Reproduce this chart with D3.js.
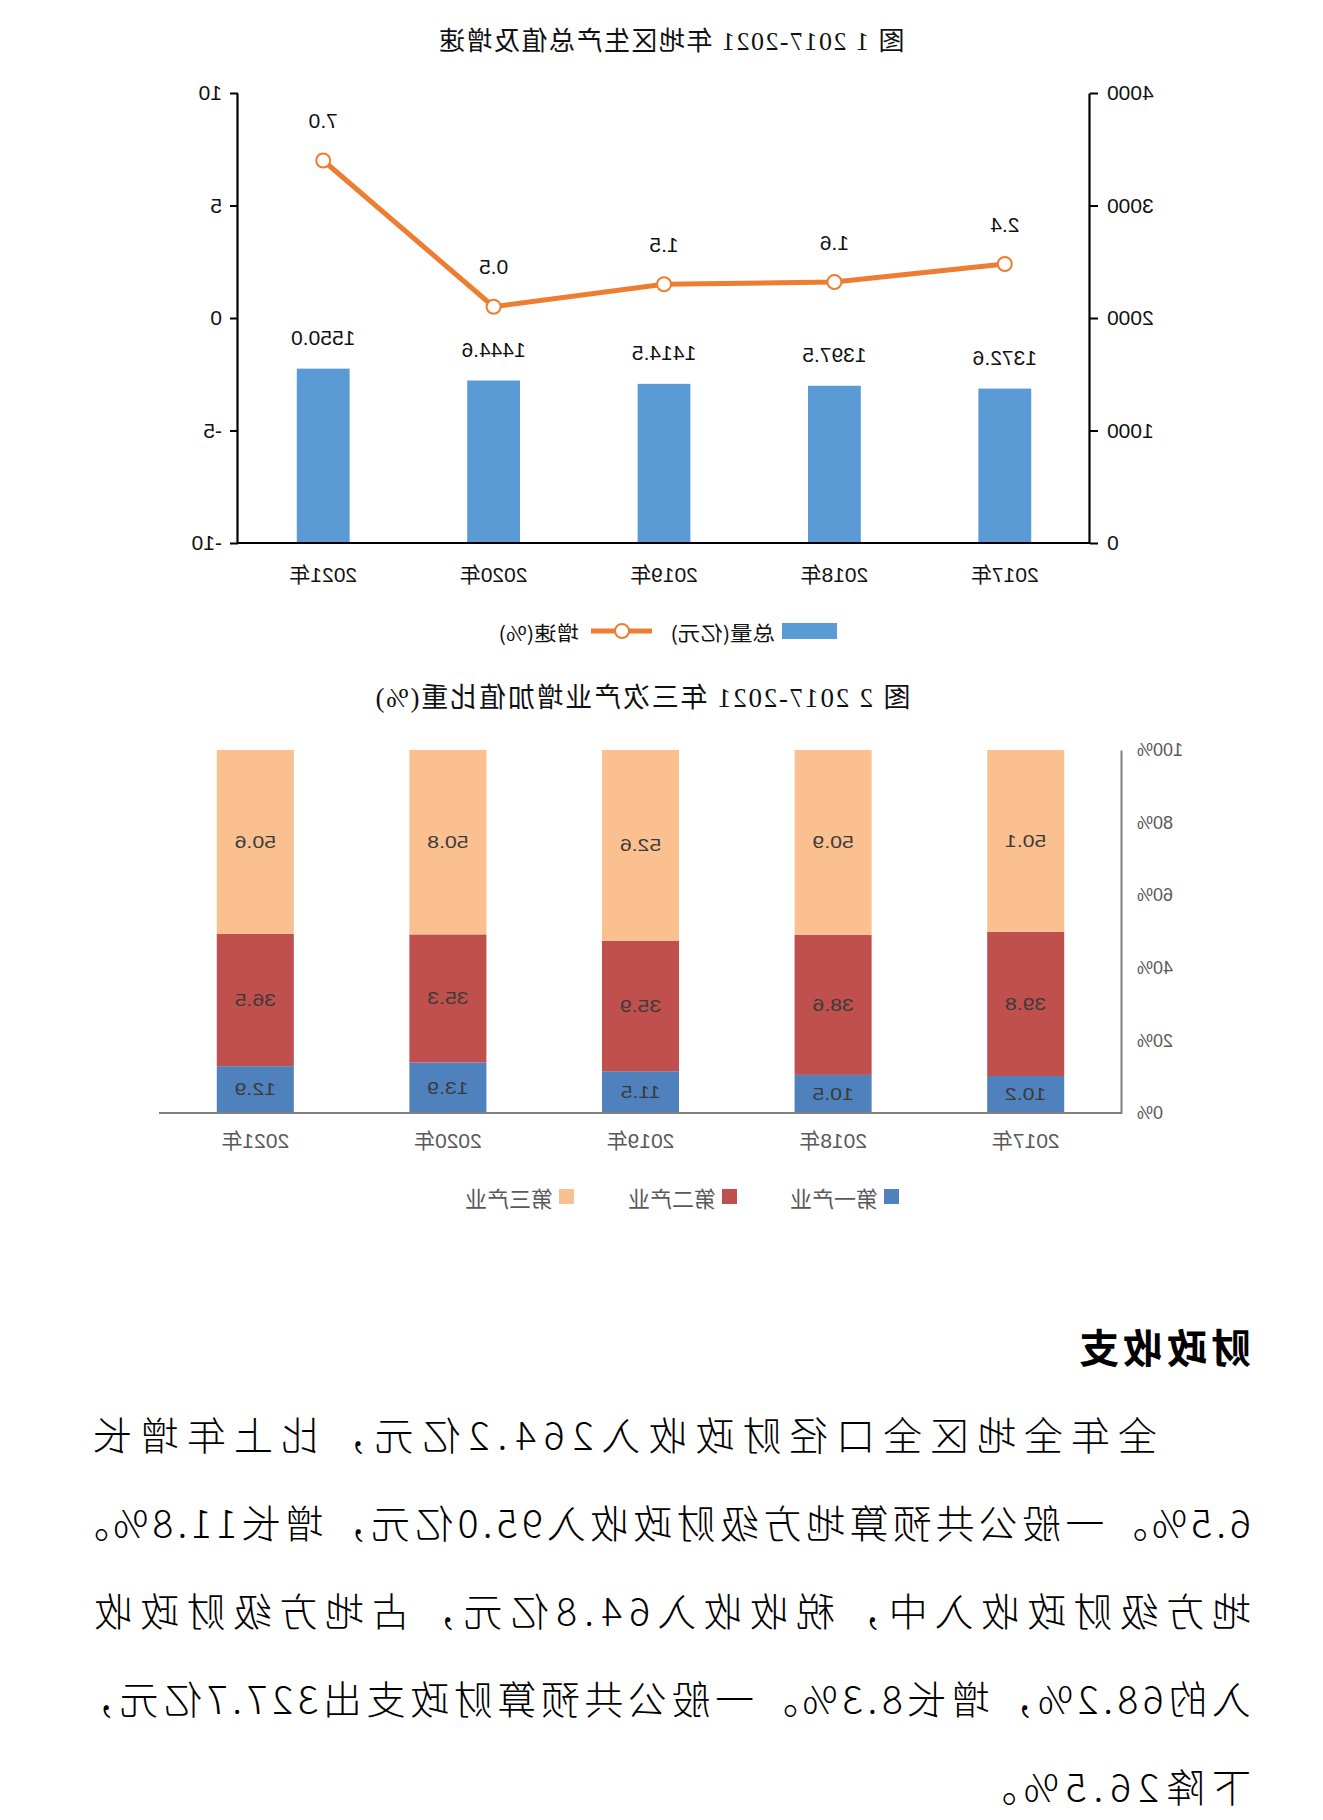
<!DOCTYPE html>
<html>
<head>
<meta charset="utf-8">
<script src="https://cdn.jsdelivr.net/npm/d3@7"></script>
<style>
  html, body { margin: 0; padding: 0; background: #fff; }
  svg { display: block; }
</style>
</head>
<body>
<div id="chart"></div>
<script>
// ---------- data ----------
const categories = ["2017年", "2018年", "2019年", "2020年", "2021年"];
const gdpTotal = [1372.6, 1397.5, 1414.5, 1444.6, 1550.0];
const gdpGrowth = [2.4, 1.6, 1.5, 0.5, 7.0];
const totalTicks = [0, 1000, 2000, 3000, 4000];
const growthTicks = [-10, -5, 0, 5, 10];

const primaryShare = [10.2, 10.5, 11.5, 13.9, 12.9];
const secondaryShare = [39.8, 38.6, 35.9, 35.3, 36.5];
const tertiaryShare = [50.1, 50.9, 52.6, 50.8, 50.6];
const shareTicks = [0, 20, 40, 60, 80, 100];
const industryNames = ["第一产业", "第二产业", "第三产业"];

const title1 = "图 1 2017-2021 年地区生产总值及增速";
const title2 = "图 2 2017-2021 年三次产业增加值比重(%)";
const legend1Names = ["总量(亿元)", "增速(%)"];
const heading = "财政收支";
const paragraphLines = [
  "全年全地区全口径财政收入264.2亿元，比上年增长",
  "6.5%。一般公共预算地方级财政收入95.0亿元，增长11.8%。",
  "地方级财政收入中，税收收入64.8亿元，占地方级财政收",
  "入的68.2%，增长8.3%。一般公共预算财政支出327.7亿元，",
  "下降26.5%。"
];

// ---------- setup ----------
const W = 1323, H = 1820;
const SANS = "'Liberation Sans', 'Noto Sans CJK SC', sans-serif";
const SERIF = "'Liberation Serif', 'Noto Sans CJK SC', serif";
const CJK = "'Noto Sans CJK SC', sans-serif";

const svg = d3.select("#chart").append("svg")
  .attr("width", W).attr("height", H)
  .attr("viewBox", `0 0 ${W} ${H}`);
svg.append("rect").attr("width", W).attr("height", H).attr("fill", "#fff");

// the reference picture is mirrored horizontally
const root = svg.append("g").attr("transform", `translate(${W},0) scale(-1,1)`);

// ---------- chart 1 ----------
const c1 = root.append("g");
c1.append("text")
  .attr("x", 652).attr("y", 41)
  .attr("text-anchor", "middle").attr("dominant-baseline", "central")
  .attr("font-family", SERIF).attr("font-size", 26).attr("letter-spacing", 1.5)
  .attr("fill", "#111").text(title1);

const x1 = d3.scaleBand().domain(categories).range([233, 1085])
  .paddingInner(0.69).paddingOuter(0.345);
const yTotal = d3.scaleLinear().domain([0, 4000]).range([543, 93]);
const yGrowth = d3.scaleLinear().domain([-10, 10]).range([543, 93]);

// bars
c1.selectAll("rect.bar").data(gdpTotal).join("rect")
  .attr("class", "bar")
  .attr("x", (d, i) => x1(categories[i]))
  .attr("width", x1.bandwidth())
  .attr("y", d => yTotal(d))
  .attr("height", d => yTotal(0) - yTotal(d))
  .attr("fill", "#5B9BD5");
c1.selectAll("text.barlab").data(gdpTotal).join("text")
  .attr("class", "barlab")
  .attr("x", (d, i) => x1(categories[i]) + x1.bandwidth() / 2)
  .attr("y", d => yTotal(d) - 31)
  .attr("text-anchor", "middle").attr("dominant-baseline", "central")
  .attr("font-family", SANS).attr("font-size", 21).attr("fill", "#111")
  .text(d => d.toFixed(1));

// axes
const plain = d => String(d);
const axL = c1.append("g").attr("transform", "translate(233,0)")
  .call(d3.axisLeft(yTotal).tickValues(totalTicks).tickFormat(plain)
    .tickSize(8).tickSizeOuter(0).tickPadding(9));
const axR = c1.append("g").attr("transform", "translate(1085,0)")
  .call(d3.axisRight(yGrowth).tickValues(growthTicks).tickFormat(plain)
    .tickSize(8).tickSizeOuter(0).tickPadding(8));
const axB = c1.append("g").attr("transform", "translate(0,543)")
  .call(d3.axisBottom(x1).tickSize(0).tickSizeOuter(0).tickPadding(24));
axB.select(".domain").attr("d", "M233,0H1085");
[axL, axR, axB].forEach(a => {
  a.select(".domain").attr("stroke", "#000").attr("stroke-width", 2.2);
  a.selectAll(".tick line").attr("stroke", "#000").attr("stroke-width", 2);
  a.selectAll("text").attr("font-family", SANS).attr("font-size", 21).attr("fill", "#111");
});

// growth line
const line = d3.line()
  .x((d, i) => x1(categories[i]) + x1.bandwidth() / 2)
  .y(d => yGrowth(d));
c1.append("path").datum(gdpGrowth)
  .attr("d", line).attr("fill", "none")
  .attr("stroke", "#ED7D31").attr("stroke-width", 5).attr("stroke-linejoin", "round");
c1.selectAll("circle.pt").data(gdpGrowth).join("circle")
  .attr("class", "pt")
  .attr("cx", (d, i) => x1(categories[i]) + x1.bandwidth() / 2)
  .attr("cy", d => yGrowth(d))
  .attr("r", 7).attr("fill", "#fff").attr("stroke", "#ED7D31").attr("stroke-width", 2);
c1.selectAll("text.ptlab").data(gdpGrowth).join("text")
  .attr("class", "ptlab")
  .attr("x", (d, i) => x1(categories[i]) + x1.bandwidth() / 2)
  .attr("y", d => yGrowth(d) - 40)
  .attr("text-anchor", "middle").attr("dominant-baseline", "central")
  .attr("font-family", SANS).attr("font-size", 21).attr("fill", "#111")
  .text(d => d.toFixed(1));

// legend 1
const lg1 = c1.append("g");
lg1.append("rect").attr("x", 486).attr("y", 623).attr("width", 55).attr("height", 16).attr("fill", "#5B9BD5");
lg1.append("text").attr("transform", "translate(548,632) scale(1.12,1)").attr("dominant-baseline", "central")
  .attr("font-family", CJK).attr("font-size", 20).attr("fill", "#111").text(legend1Names[0]);
lg1.append("line").attr("x1", 671).attr("x2", 732).attr("y1", 631).attr("y2", 631)
  .attr("stroke", "#ED7D31").attr("stroke-width", 5);
lg1.append("circle").attr("cx", 701).attr("cy", 631).attr("r", 7)
  .attr("fill", "#fff").attr("stroke", "#ED7D31").attr("stroke-width", 2);
lg1.append("text").attr("transform", "translate(744,632) scale(1.12,1)").attr("dominant-baseline", "central")
  .attr("font-family", CJK).attr("font-size", 20).attr("fill", "#111").text(legend1Names[1]);

// ---------- chart 2 ----------
const c2 = root.append("g");
c2.append("text")
  .attr("x", 681).attr("y", 698)
  .attr("text-anchor", "middle").attr("dominant-baseline", "central")
  .attr("font-family", SERIF).attr("font-size", 27)
  .attr("letter-spacing", 1.8).attr("fill", "#111").text(title2);

const x2 = d3.scaleBand().domain(categories).range([201, 1164])
  .paddingInner(0.6).paddingOuter(0.3);
const y2 = d3.scaleLinear().domain([0, 100]).range([1113, 750]);
const shareColors = ["#4F81BD", "#C0504D", "#FAC090"];

const rows = categories.map((c, i) => ({
  cat: c, v: [primaryShare[i], secondaryShare[i], tertiaryShare[i]]
}));
rows.forEach(r => {
  const sum = d3.sum(r.v);
  let acc = 0;
  r.seg = r.v.map((v, k) => {
    const s = { k, v, y0: acc / sum * 100, y1: (acc + v) / sum * 100 };
    acc += v;
    return s;
  });
});

const colG = c2.selectAll("g.col").data(rows).join("g").attr("class", "col");
colG.selectAll("rect").data(r => r.seg.map(s => ({ ...s, cat: r.cat }))).join("rect")
  .attr("x", d => x2(d.cat)).attr("width", x2.bandwidth())
  .attr("y", d => y2(d.y1)).attr("height", d => y2(d.y0) - y2(d.y1))
  .attr("fill", d => shareColors[d.k]);
colG.selectAll("text").data(r => r.seg.map(s => ({ ...s, cat: r.cat }))).join("text")
  .attr("transform", d => `translate(${x2(d.cat) + x2.bandwidth() / 2},${(y2(d.y0) + y2(d.y1)) / 2}) scale(1.25,1)`)
  .attr("text-anchor", "middle").attr("dominant-baseline", "central")
  .attr("font-family", SANS).attr("font-size", 17).attr("fill", "#3a3a3a")
  .text(d => d.v.toFixed(1));

const ax2L = c2.append("g").attr("transform", "translate(201,0)")
  .call(d3.axisLeft(y2).tickValues(shareTicks).tickSize(0).tickSizeOuter(0).tickPadding(15)
    .tickFormat(d => d + "%"));
const ax2B = c2.append("g").attr("transform", "translate(0,1113)")
  .call(d3.axisBottom(x2).tickSize(0).tickSizeOuter(0).tickPadding(20));
ax2B.select(".domain").attr("d", "M201,0H1164");
[ax2L, ax2B].forEach(a => {
  a.select(".domain").attr("stroke", "#808080").attr("stroke-width", 2);
  a.selectAll("text").attr("font-family", SANS).attr("fill", "#595959");
});
ax2L.selectAll("text").attr("font-size", 18);
ax2B.selectAll("text").attr("font-size", 21);

// legend 2
const lg2x = [424, 586, 749];
const lg2 = c2.selectAll("g.lg2").data(industryNames).join("g").attr("class", "lg2");
lg2.append("rect")
  .attr("x", (d, i) => lg2x[i]).attr("y", 1189).attr("width", 15).attr("height", 15)
  .attr("fill", (d, i) => shareColors[i]);
lg2.append("text")
  .attr("x", (d, i) => lg2x[i] + 21).attr("y", 1197).attr("dominant-baseline", "central")
  .attr("font-family", CJK).attr("font-size", 22).attr("fill", "#595959")
  .text(d => d);

// ---------- text section ----------
const tx = root.append("g");
tx.append("text").attr("x", 72).attr("y", 1346).attr("dominant-baseline", "central")
  .attr("font-family", CJK).attr("font-size", 40).attr("font-weight", 700)
  .attr("letter-spacing", 4).attr("fill", "#000").text(heading);

const lineStart = [166, 72, 72, 72, 72];
const lineEnd = [1230, 1253, 1229, 1247, null];
tx.selectAll("text.para").data(paragraphLines).join("text")
  .attr("class", "para")
  .attr("x", (d, i) => lineStart[i])
  .attr("y", (d, i) => 1433 + 88 * i)
  .attr("dominant-baseline", "central")
  .attr("font-family", CJK).attr("font-size", 39).attr("font-weight", 300)
  .attr("fill", "#000")
  .each(function (d, i) {
    const t = d3.select(this);
    if (lineEnd[i] != null) {
      t.attr("textLength", lineEnd[i] - lineStart[i]).attr("lengthAdjust", "spacing");
    } else {
      t.attr("letter-spacing", 7);
    }
  })
  .text(d => d);
</script>
</body>
</html>
